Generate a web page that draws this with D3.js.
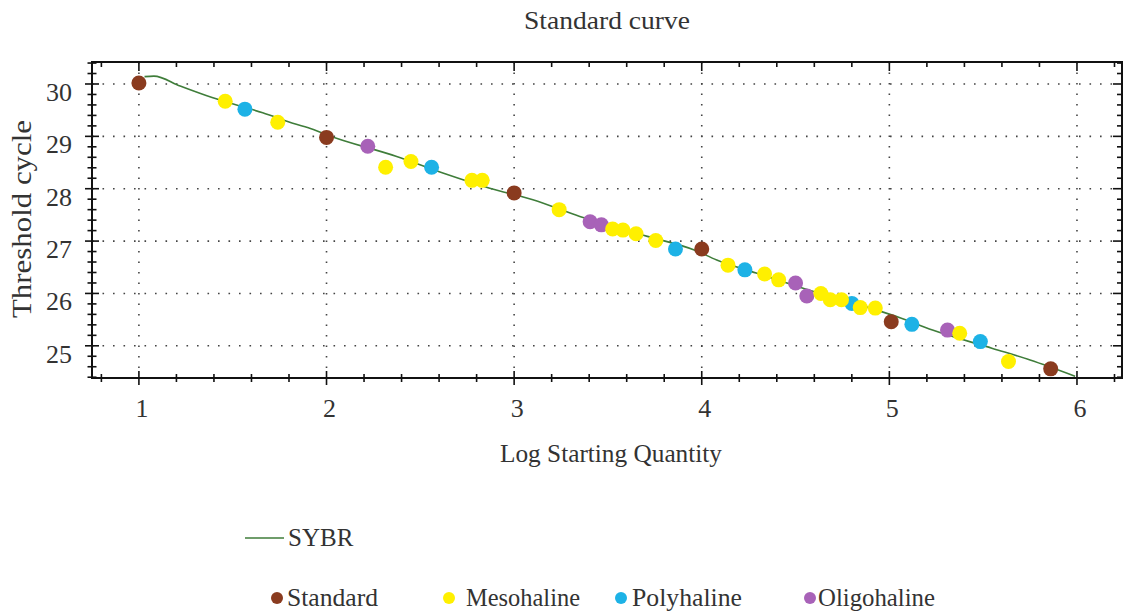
<!DOCTYPE html>
<html>
<head>
<meta charset="utf-8">
<script src="https://cdn.jsdelivr.net/npm/d3@7"></script>
<style>
  body { margin: 0; background: #fff; }
  text { font-family: "Liberation Serif", "Times New Roman", serif; fill: #333; }
</style>
</head>
<body>
<script>
// points (x = log starting quantity, y = threshold cycle)
var standardX = [1.0, 2.0, 3.0, 4.0, 5.01, 5.86];
var standardY = [30.02, 28.98, 27.92, 26.85, 25.46, 24.56];

var mesoX = [1.46, 1.74, 2.315, 2.45, 2.775, 2.83, 3.24, 3.525, 3.58, 3.65, 3.755, 4.14, 4.335, 4.41, 4.635, 4.685, 4.745, 4.845, 4.925, 5.375, 5.635];
var mesoY = [29.67, 29.27, 28.41, 28.52, 28.16, 28.16, 27.60, 27.23, 27.21, 27.14, 27.01, 26.54, 26.37, 26.26, 26.00, 25.88, 25.88, 25.73, 25.72, 25.24, 24.70];

var polyX = [1.565, 2.56, 3.86, 4.23, 4.80, 5.12, 5.485];
var polyY = [29.52, 28.41, 26.85, 26.45, 25.81, 25.41, 25.08];

var oligoX = [2.22, 3.405, 3.465, 4.5, 4.56, 5.31];
var oligoY = [28.81, 27.37, 27.31, 26.20, 25.95, 25.30];

// the SYBR fitted curve
var curveX = [1.03, 1.08, 1.22, 1.39, 1.66, 1.82, 1.93, 2.0, 2.37, 2.62, 2.87, 3.10, 3.35, 3.71, 3.96, 4.08, 4.29, 4.54, 5.06, 5.23, 5.55, 5.75, 5.99];
var curveY = [30.14, 30.15, 29.96, 29.74, 29.45, 29.25, 29.13, 29.03, 28.62, 28.30, 28.01, 27.79, 27.47, 27.09, 26.83, 26.64, 26.39, 26.10, 25.53, 25.30, 24.95, 24.73, 24.42];

var xTicks = [1, 2, 3, 4, 5, 6];
var yTicks = [25, 26, 27, 28, 29, 30];

var seriesNames = ["Standard", "Mesohaline", "Polyhaline", "Oligohaline"];
var seriesColors = ["#8a3b1f", "#fff000", "#1db2e6", "#a862b8"];

// plot frame (not "top": that name is taken by window.top)
var frameL = 92, frameR = 1122, frameT = 62, frameB = 378;

var svg = d3.select("body").append("svg")
    .attr("width", 1124)
    .attr("height", 611);

var x = d3.scaleLinear().domain([0.75, 6.24]).range([frameL, frameR]);
var y = d3.scaleLinear().domain([24.385, 30.42]).range([frameB, frameT]);

// dotted grid
svg.selectAll(".vgrid")
    .data(xTicks)
  .enter().append("line")
    .attr("x1", function(d) { return x(d); })
    .attr("x2", function(d) { return x(d); })
    .attr("y1", frameT).attr("y2", frameB)
    .attr("stroke", "#444").attr("stroke-width", 1.6)
    .attr("stroke-dasharray", "1.6,8.9");
svg.selectAll(".hgrid")
    .data(yTicks)
  .enter().append("line")
    .attr("x1", frameL).attr("x2", frameR)
    .attr("y1", function(d) { return y(d); })
    .attr("y2", function(d) { return y(d); })
    .attr("stroke", "#444").attr("stroke-width", 1.6)
    .attr("stroke-dasharray", "1.6,8.9");

// frame
svg.append("rect")
    .attr("x", frameL).attr("y", frameT)
    .attr("width", frameR - frameL).attr("height", frameB - frameT)
    .attr("fill", "none").attr("stroke", "#111").attr("stroke-width", 2);

// minor + major ticks (every 0.2)
var xMinor = d3.range(0.8, 6.21, 0.2).map(function(d) { return Math.round(d * 10) / 10; });
var yMinor = d3.range(24.4, 30.41, 0.2).map(function(d) { return Math.round(d * 10) / 10; });
function isMajor(d) { return Math.abs(d - Math.round(d)) < 0.01; }

var ticks = svg.append("g").attr("stroke", "#111").attr("stroke-width", 1.6);
xMinor.forEach(function(d) {
  var len = isMajor(d) ? 7 : 4;
  ticks.append("line").attr("x1", x(d)).attr("x2", x(d))
      .attr("y1", frameB - len).attr("y2", frameB + len);
  ticks.append("line").attr("x1", x(d)).attr("x2", x(d))
      .attr("y1", frameT).attr("y2", frameT + (isMajor(d) ? 9 : 5));
});
yMinor.forEach(function(d) {
  var len = isMajor(d) ? 7 : 4.5;
  ticks.append("line").attr("y1", y(d)).attr("y2", y(d))
      .attr("x1", frameL - len).attr("x2", frameL + len);
  ticks.append("line").attr("y1", y(d)).attr("y2", y(d))
      .attr("x1", frameR - (isMajor(d) ? 9 : 5)).attr("x2", frameR);
});

// tick labels
svg.selectAll(".xlab")
    .data(xTicks)
  .enter().append("text")
    .attr("x", function(d) { return x(d) + 3; })
    .attr("y", 417)
    .attr("text-anchor", "middle")
    .attr("font-size", 26)
    .text(function(d) { return d; });
svg.selectAll(".ylab")
    .data(yTicks)
  .enter().append("text")
    .attr("x", 72)
    .attr("y", function(d) { return y(d) + 17; })
    .attr("text-anchor", "end")
    .attr("font-size", 26)
    .text(function(d) { return d; });

// titles
svg.append("text")
    .attr("x", 607).attr("y", 29)
    .attr("text-anchor", "middle").attr("font-size", 26)
    .attr("textLength", 166).attr("lengthAdjust", "spacingAndGlyphs")
    .text("Standard curve");
svg.append("text")
    .attr("x", 611).attr("y", 462)
    .attr("text-anchor", "middle").attr("font-size", 26)
    .attr("textLength", 222).attr("lengthAdjust", "spacingAndGlyphs")
    .text("Log Starting Quantity");
svg.append("text")
    .attr("transform", "translate(31,219) rotate(-90)")
    .attr("text-anchor", "middle").attr("font-size", 27)
    .attr("textLength", 198).attr("lengthAdjust", "spacingAndGlyphs")
    .text("Threshold cycle");

// fitted curve
var curvePts = curveX.map(function(d, i) { return [d, curveY[i]]; });
svg.append("path")
    .datum(curvePts)
    .attr("fill", "none")
    .attr("stroke", "#3f7d3a")
    .attr("stroke-width", 1.6)
    .attr("d", d3.line()
        .x(function(d) { return x(d[0]); })
        .y(function(d) { return y(d[1]); })
        .curve(d3.curveMonotoneX));

// points
var groups = [
  { xs: standardX, ys: standardY, c: seriesColors[0] },
  { xs: polyX, ys: polyY, c: seriesColors[2] },
  { xs: oligoX, ys: oligoY, c: seriesColors[3] },
  { xs: mesoX, ys: mesoY, c: seriesColors[1] }
];
groups.forEach(function(g) {
  svg.append("g").selectAll("circle")
      .data(g.xs)
    .enter().append("circle")
      .attr("cx", function(d) { return x(d); })
      .attr("cy", function(d, i) { return y(g.ys[i]); })
      .attr("r", 7.5)
      .attr("fill", g.c);
});

// legend
svg.append("line")
    .attr("x1", 245).attr("x2", 284).attr("y1", 538).attr("y2", 538)
    .attr("stroke", "#3f7d3a").attr("stroke-width", 1.6);
svg.append("text")
    .attr("x", 288).attr("y", 546).attr("font-size", 25)
    .text("SYBR");

var legDot = [277, 449, 621, 810];
var legText = [287, 466, 632, 818];
var legWidth = [91, 114, 110, 117];
seriesNames.forEach(function(name, i) {
  svg.append("circle")
      .attr("cx", legDot[i]).attr("cy", 598).attr("r", 6)
      .attr("fill", seriesColors[i]);
  svg.append("text")
      .attr("x", legText[i]).attr("y", 606).attr("font-size", 25)
      .attr("textLength", legWidth[i]).attr("lengthAdjust", "spacingAndGlyphs")
      .text(name);
});
</script>
</body>
</html>
